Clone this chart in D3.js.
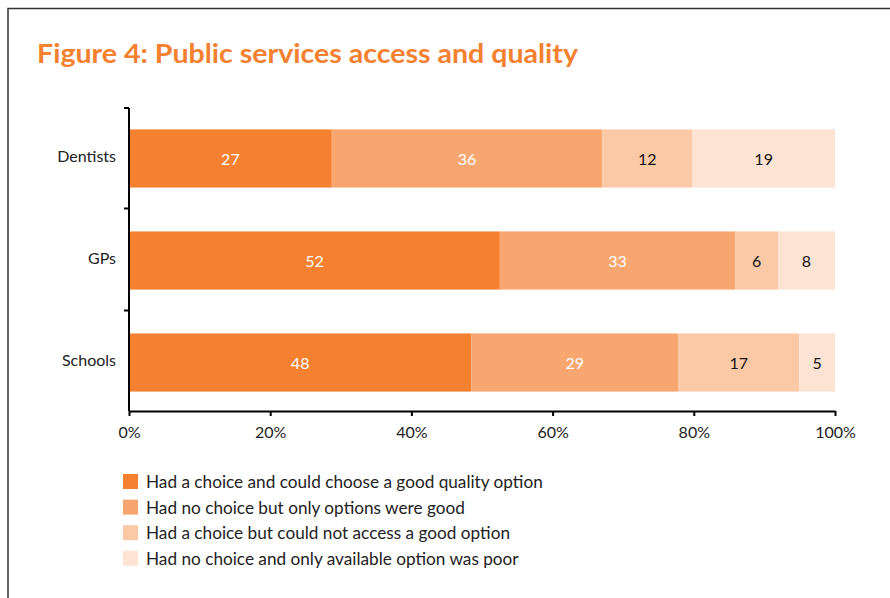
<!DOCTYPE html>
<html>
<head>
<meta charset="utf-8">
<script src="https://cdn.jsdelivr.net/npm/d3@7"></script>
<style>
  body { margin: 0; background: #fff; }
  text { font-family: Lato, "Open Sans", sans-serif; }
</style>
</head>
<body>
<div id="chart"></div>
<script>
const categories = ["Dentists", "GPs", "Schools"];
const seriesNames = [
  "Had a choice and could choose a good quality option",
  "Had no choice but only options were good",
  "Had a choice but could not access a good option",
  "Had no choice and only available option was poor"
];
const choiceGood = [27, 52, 48];
const noChoiceGood = [36, 33, 29];
const choicePoorAccess = [12, 6, 17];
const noChoicePoor = [19, 8, 5];
const xTicks = [0, 0.2, 0.4, 0.6, 0.8, 1];

const colors = ["#f5802f", "#f8a670", "#fcc9a7", "#fde3d3"];
const labelColors = ["#fff", "#fff", "#111", "#111"];

const width = 890, height = 598;
const svg = d3.select("#chart").append("svg")
  .attr("width", width)
  .attr("height", height);

// frame
svg.append("path")
  .attr("d", `M8,${height + 5} V8.5 H${width + 5}`)
  .attr("fill", "none")
  .attr("stroke", "#333")
  .attr("stroke-width", 1.5);

svg.append("text")
  .attr("x", 37)
  .attr("y", 63)
  .attr("fill", "#f5802f")
  .attr("font-size", 27)
  .attr("font-weight", "bold")
  .attr("textLength", 541)
  .attr("lengthAdjust", "spacingAndGlyphs")
  .text("Figure 4: Public services access and quality");

const seriesValues = [choiceGood, noChoiceGood, choicePoorAccess, noChoicePoor];
const rows = categories.map((c, i) => {
  const r = { category: c };
  seriesNames.forEach((s, j) => { r[s] = seriesValues[j][i]; });
  return r;
});

const stacked = d3.stack()
  .keys(seriesNames)
  .offset(d3.stackOffsetExpand)(rows);

const x = d3.scaleLinear().domain([0, 1]).range([129, 835]);
const y = d3.scaleBand().domain(categories).range([108, 411]).paddingInner(0.43).paddingOuter(0.2);

const layer = svg.selectAll(".layer")
  .data(stacked)
  .enter()
  .append("g")
  .attr("class", "layer");

layer.selectAll("rect")
  .data(d => d.map(p => ({ p, key: d.key, idx: d.index })))
  .enter()
  .append("rect")
  .attr("x", d => x(d.p[0]))
  .attr("y", d => y(d.p.data.category) + 1)
  .attr("width", d => x(d.p[1]) - x(d.p[0]))
  .attr("height", y.bandwidth())
  .attr("fill", d => colors[d.idx]);

layer.selectAll("text")
  .data(d => d.map(p => ({ p, key: d.key, idx: d.index })))
  .enter()
  .append("text")
  .attr("x", d => (x(d.p[0]) + x(d.p[1])) / 2)
  .attr("y", d => y(d.p.data.category) + 1 + y.bandwidth() / 2)
  .attr("dy", "0.4em")
  .attr("text-anchor", "middle")
  .attr("font-size", 16)
  .attr("fill", d => labelColors[d.idx])
  .text(d => d.p.data[d.key]);

// x axis
const xAxis = svg.append("g")
  .attr("transform", "translate(0,411)")
  .call(d3.axisBottom(x).tickValues(xTicks).tickFormat(d3.format(".0%")).tickSize(5).tickSizeOuter(0));
xAxis.select(".domain").attr("stroke", "#000").attr("stroke-width", 2);
xAxis.selectAll(".tick line").attr("stroke", "#000").attr("stroke-width", 2);
xAxis.selectAll(".tick text")
  .attr("font-size", 16)
  .attr("fill", "#222")
  .attr("font-family", "Lato, sans-serif")
  .attr("dy", "1.2em");

// y axis with boundary ticks
const yAxisG = svg.append("g");
yAxisG.append("line")
  .attr("x1", x(0)).attr("x2", x(0))
  .attr("y1", y.range()[0]).attr("y2", y.range()[1])
  .attr("stroke", "#000").attr("stroke-width", 2);
const boundaries = [y.range()[0]].concat(categories.slice(1).map(c => y(c) - y.step() * y.paddingInner() / 2));
yAxisG.selectAll(".ytick")
  .data(boundaries)
  .enter()
  .append("line")
  .attr("class", "ytick")
  .attr("x1", x(0) - 5).attr("x2", x(0))
  .attr("y1", d => d).attr("y2", d => d)
  .attr("stroke", "#000").attr("stroke-width", 2);
yAxisG.selectAll(".ylabel")
  .data(categories)
  .enter()
  .append("text")
  .attr("class", "ylabel")
  .attr("x", 116)
  .attr("y", d => y(d) + y.bandwidth() / 2)
  .attr("dy", "0.3em")
  .attr("text-anchor", "end")
  .attr("font-size", 16)
  .attr("fill", "#222")
  .text(d => d);

// legend
const legend = svg.selectAll(".legend")
  .data(seriesNames)
  .enter()
  .append("g")
  .attr("class", "legend")
  .attr("transform", (d, i) => `translate(123,${474 + i * 25.6})`);
legend.append("rect")
  .attr("width", 15).attr("height", 15)
  .attr("fill", (d, i) => colors[i]);
legend.append("text")
  .attr("x", 23)
  .attr("y", 8)
  .attr("dy", "0.36em")
  .attr("font-size", 17.2)
  .attr("fill", "#222")
  .text(d => d);
</script>
</body>
</html>
